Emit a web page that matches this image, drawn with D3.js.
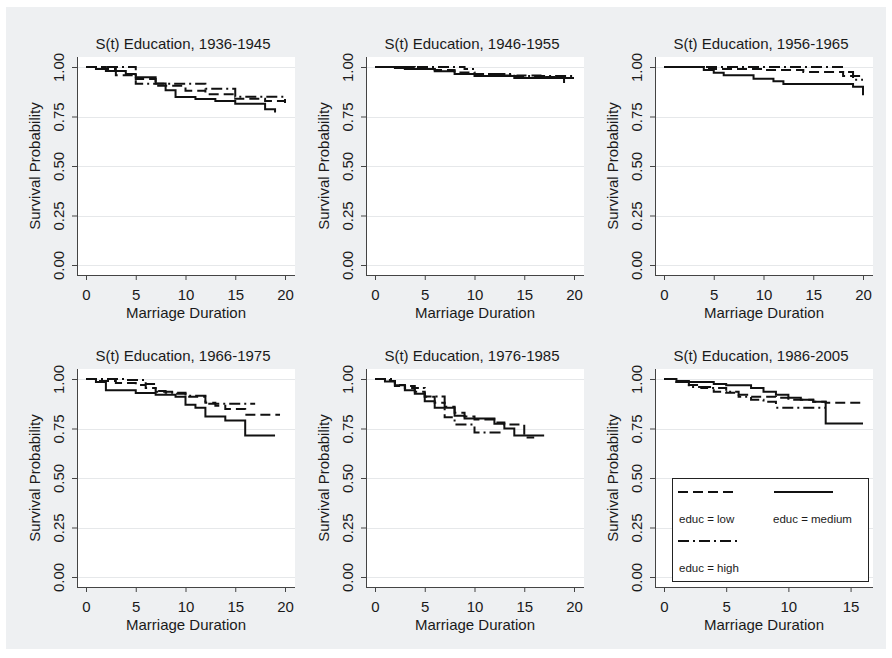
<!DOCTYPE html>
<html>
<head>
<meta charset="utf-8">
<script src="https://cdn.jsdelivr.net/npm/d3@7"></script>
<style>
  body { margin: 0; background: #fff; }
  text { font-family: "Liberation Sans", Arial, sans-serif; fill: #1a1a1a; }
</style>
</head>
<body>
<svg id="chart" width="892" height="658"></svg>
<script>
// cohorts, one panel each
const cohorts = ['1936-1945', '1946-1955', '1956-1965', '1966-1975', '1976-1985', '1986-2005']
const xMaxes = [20, 20, 20, 20, 20, 16]
const xTickSets = [[0, 5, 10, 15, 20], [0, 5, 10, 15, 20], [0, 5, 10, 15, 20],
                   [0, 5, 10, 15, 20], [0, 5, 10, 15, 20], [0, 5, 10, 15]]
const yTicks = [0, 0.25, 0.5, 0.75, 1]

// Kaplan-Meier steps [time, survival], one list per cohort
const lowCurves = [
  [[0, 1], [2, 0.99], [3, 0.958], [5, 0.94], [7, 0.905], [10, 0.88], [12, 0.862], [15, 0.84], [18, 0.828], [20, 0.816]],
  [[0, 1], [4, 0.99], [6, 0.985], [8, 0.972], [10, 0.965], [13, 0.957], [17, 0.95], [19, 0.9]],
  [[0, 1], [4, 0.995], [5, 0.99], [10, 0.985], [14, 0.975], [18, 0.955], [20, 0.955]],
  [[0, 1], [1, 0.99], [3, 0.98], [5, 0.97], [6, 0.955], [7, 0.935], [9, 0.925], [10, 0.91], [12, 0.88], [13, 0.865], [14, 0.848], [16, 0.82], [19.5, 0.82]],
  [[0, 1], [1.5, 0.99], [2, 0.97], [3, 0.955], [4, 0.935], [5, 0.91], [6, 0.88], [7, 0.86], [8, 0.83], [9, 0.81], [10, 0.795], [12, 0.78], [13, 0.77], [15, 0.705], [16, 0.705]],
  [[0, 1], [1, 0.985], [2, 0.97], [3, 0.96], [4, 0.935], [5, 0.93], [6, 0.92], [7, 0.91], [9, 0.905], [10, 0.895], [12, 0.885], [13, 0.88], [16, 0.88]]
]
const mediumCurves = [
  [[0, 1], [1, 0.99], [2, 0.98], [4, 0.965], [5, 0.948], [7, 0.917], [8, 0.883], [9, 0.848], [11, 0.838], [13, 0.828], [15, 0.814], [18, 0.787], [19, 0.77]],
  [[0, 1], [2, 0.995], [3, 0.99], [6, 0.978], [8, 0.965], [10, 0.955], [14, 0.945], [20, 0.945]],
  [[0, 1], [4, 0.985], [5, 0.971], [6, 0.958], [9, 0.941], [11, 0.928], [12, 0.914], [19, 0.9], [20, 0.857]],
  [[0, 1], [1, 0.985], [2, 0.943], [5, 0.929], [7, 0.92], [9, 0.91], [10, 0.87], [11, 0.855], [12, 0.81], [14, 0.79], [16, 0.715], [19, 0.715]],
  [[0, 1], [1, 0.988], [2, 0.968], [3, 0.943], [4, 0.926], [5, 0.887], [6, 0.855], [8, 0.815], [9, 0.8], [12, 0.774], [13, 0.75], [14, 0.715], [17, 0.715]],
  [[0, 1], [1, 0.99], [2, 0.985], [4, 0.975], [5, 0.968], [7, 0.955], [8, 0.935], [9, 0.92], [10, 0.905], [11, 0.895], [12, 0.885], [13, 0.775], [16, 0.775]]
]
const highCurves = [
  [[0, 1], [5, 0.915], [12, 0.89], [15, 0.85], [20, 0.83]],
  [[0, 1], [9, 0.99], [10, 0.965], [14, 0.955], [20, 0.95]],
  [[0, 1], [18, 0.975], [19, 0.935], [20, 0.935]],
  [[0, 1], [4, 0.995], [6, 0.975], [7, 0.94], [8, 0.93], [10, 0.915], [12, 0.875], [17, 0.875]],
  [[0, 1], [2, 0.965], [4, 0.954], [5, 0.912], [7, 0.807], [8, 0.77], [10, 0.73], [13, 0.73]],
  [[0, 1], [1, 0.985], [2, 0.96], [3, 0.955], [5, 0.935], [6, 0.91], [7, 0.895], [8, 0.885], [9, 0.855], [13, 0.855]]
]

const seriesNames = ['educ = low', 'educ = medium', 'educ = high']
const dashes = ['10,5', null, '11,4,2,4']

const svg = d3.select('#chart')
const fontSize = '15px'

// grey graph region
svg.append('rect')
   .attr('x', 6).attr('y', 7)
   .attr('width', 880).attr('height', 642)
   .attr('fill', '#eef0f2')

// panel layout
const colX = [77, 366, 655]
const rowY = [57, 369]
const pw = 218
const ph = 218
const inset = 10

cohorts.forEach(function (cohort, i) {
  let left = colX[i % 3]
  let top = rowY[Math.floor(i / 3)]
  let g = svg.append('g').attr('transform', `translate(${left},${top})`)

  let x = d3.scaleLinear().domain([0, xMaxes[i]]).range([inset - 1, pw - inset])
  let y = d3.scaleLinear().domain([0, 1]).range([ph - inset, inset])

  g.append('rect').attr('width', pw).attr('height', ph).attr('fill', '#fff')

  // grid
  g.selectAll('.grid')
   .data(yTicks)
   .enter()
   .append('line')
   .attr('x1', 0).attr('x2', pw)
   .attr('y1', d => Math.round(y(d)) + 0.5).attr('y2', d => Math.round(y(d)) + 0.5)
   .attr('stroke', '#e6e8ea')
   .attr('stroke-width', 1)

  // curves
  let line = d3.line()
    .x(d => x(d[0]))
    .y(d => y(d[1]))
    .curve(d3.curveStepAfter)

  let curves = [lowCurves[i], mediumCurves[i], highCurves[i]]
  curves.forEach(function (c, k) {
    g.append('path')
     .attr('d', line(c))
     .attr('fill', 'none')
     .attr('stroke', '#111')
     .attr('stroke-width', 2)
     .attr('stroke-dasharray', dashes[k])
  })

  // y axis
  let ya = g.append('g')
    .call(d3.axisLeft(y).tickValues(yTicks).tickFormat(d3.format('.2f')).tickSize(5).tickSizeOuter(0))
  ya.select('.domain').remove()
  ya.selectAll('line').attr('stroke', '#444')
  ya.selectAll('text')
    .attr('x', 0).attr('dy', 0)
    .attr('text-anchor', 'middle')
    .attr('transform', 'translate(-13,0) rotate(-90)')
    .style('font-size', fontSize)
    .style('font-family', '"Liberation Sans", Arial, sans-serif')
    .attr('fill', '#1a1a1a')

  // x axis
  let xa = g.append('g')
    .attr('transform', `translate(0,${ph})`)
    .call(d3.axisBottom(x).tickValues(xTickSets[i]).tickFormat(d3.format('d')).tickSize(5).tickSizeOuter(0))
  xa.select('.domain').remove()
  xa.selectAll('line').attr('stroke', '#444')
  xa.selectAll('text')
    .attr('y', 25).attr('dy', 0)
    .style('font-size', fontSize)
    .style('font-family', '"Liberation Sans", Arial, sans-serif')
    .attr('fill', '#1a1a1a')

  // axis lines
  g.append('line').attr('x1', 0.5).attr('x2', 0.5).attr('y1', 0).attr('y2', ph)
   .attr('stroke', '#444').attr('stroke-width', 1)
  g.append('line').attr('x1', 0).attr('x2', pw).attr('y1', ph + 0.5).attr('y2', ph + 0.5)
   .attr('stroke', '#444').attr('stroke-width', 1)

  // titles
  g.append('text')
   .attr('x', pw / 2 - 3).attr('y', -8)
   .attr('text-anchor', 'middle')
   .style('font-size', fontSize)
   .text('S(t) Education, ' + cohort)

  g.append('text')
   .attr('x', pw / 2).attr('y', ph + 43)
   .attr('text-anchor', 'middle')
   .style('font-size', fontSize)
   .text('Marriage Duration')

  g.append('text')
   .attr('transform', `translate(-37,${ph / 2}) rotate(-90)`)
   .attr('text-anchor', 'middle')
   .style('font-size', fontSize)
   .text('Survival Probability')

  // legend sits in the last panel
  if (i === cohorts.length - 1) {
    let lg = g.append('g').attr('transform', `translate(${672 - left},${478 - top})`)
    lg.append('rect')
      .attr('x', 0.5).attr('y', 0.5)
      .attr('width', 196).attr('height', 103)
      .attr('fill', '#fff')
      .attr('stroke', '#222')
      .attr('stroke-width', 1)
    let pos = [[6, 14], [102, 14], [6, 63]]
    let lens = [55, 59, 59]
    seriesNames.forEach(function (name, k) {
      lg.append('line')
        .attr('x1', pos[k][0]).attr('x2', pos[k][0] + lens[k])
        .attr('y1', pos[k][1]).attr('y2', pos[k][1])
        .attr('stroke', '#111').attr('stroke-width', 2)
        .attr('stroke-dasharray', dashes[k])
      lg.append('text')
        .attr('x', pos[k][0] + (k === 1 ? -1 : 1)).attr('y', pos[k][1] + 31)
        .style('font-size', '11.5px')
        .text(name)
    })
  }
})
</script>
</body>
</html>
